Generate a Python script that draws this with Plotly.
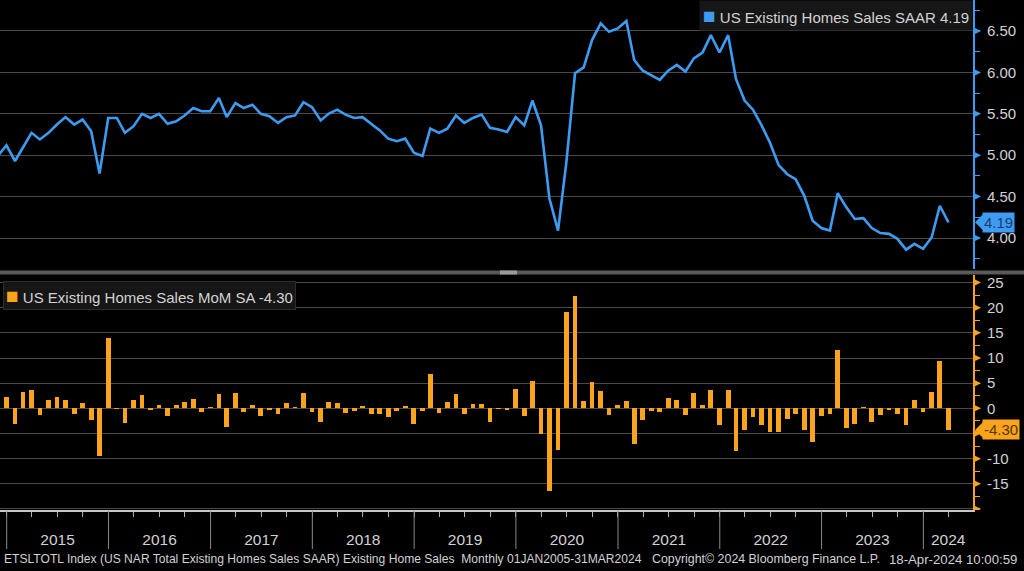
import pandas as pd
import plotly.graph_objects as go

# ---------------- data ----------------
first_month = "2014-11-01"
saar = [
    4.99, 5.12,
    4.93, 5.10, 5.27, 5.19, 5.27, 5.37, 5.46, 5.37, 5.43, 5.29, 4.78, 5.45,
    5.45, 5.27, 5.35, 5.50, 5.45, 5.50, 5.38, 5.41, 5.48, 5.57, 5.53, 5.53,
    5.69, 5.46, 5.63, 5.57, 5.61, 5.50, 5.47, 5.39, 5.46, 5.48, 5.64, 5.58,
    5.42, 5.50, 5.55, 5.49, 5.45, 5.46, 5.38, 5.30, 5.20, 5.17, 5.20, 5.03,
    4.99, 5.32, 5.27, 5.32, 5.48, 5.39, 5.45, 5.49, 5.33, 5.31, 5.28, 5.46,
    5.36, 5.66, 5.36, 4.48, 4.09, 4.92, 5.99, 6.06, 6.39, 6.59, 6.49, 6.53,
    6.62, 6.15, 6.02, 5.97, 5.91, 6.02, 6.09, 6.01, 6.17, 6.24, 6.45, 6.24,
    6.45, 5.92, 5.66, 5.55, 5.36, 5.15, 4.88, 4.77, 4.71, 4.51, 4.21, 4.12,
    4.09, 4.54, 4.37, 4.23, 4.24, 4.12, 4.06, 4.05, 3.99, 3.86, 3.93, 3.87,
    4.01, 4.39, 4.19,
]
mom = [
    -2.1, 2.3,
    -3.2, 3.3, 3.6, -1.4, 1.6, 2.3, 1.6, -1.2, 1.1, -2.3, -9.5, 13.9,
    -0.1, -2.9, 1.6, 2.7, -0.4, 0.7, -1.5, 0.7, 1.3, 1.8, -0.7, 0.3,
    2.8, -3.7, 3.1, -0.7, 0.7, -1.5, -0.4, -1.1, 1.1, 0.3, 3.1, -0.7,
    -2.7, 1.3, 1.1, -0.9, -0.5, 0.5, -1.1, -1.1, -1.7, -0.5, 0.5, -3.1,
    -0.5, 6.9, -1.0, 1.3, 2.8, -1.2, 0.9, 0.9, -2.7, -0.1, -0.3, 3.8,
    -1.6, 5.4, -5.1, -16.4, -8.3, 19.2, 22.4, 1.5, 5.2, 3.5, -1.3, 0.7,
    1.5, -7.1, -2.4, -0.6, -0.8, 2.0, 1.6, -1.3, 3.0, 0.7, 3.6, -3.4,
    3.6, -8.5, -4.3, -1.7, -3.3, -4.6, -4.6, -2.2, -1.1, -4.3, -6.6, -1.5,
    -1.1, 11.5, -4.0, -3.1, 0.3, -2.8, -1.3, -0.3, -1.1, -3.3, 1.7, -0.7,
    3.2, 9.5, -4.30,
]
saar_name = "US Existing Homes Sales SAAR"
mom_name = "US Existing Homes Sales MoM SA"
saar_ticks = [4.0, 4.5, 5.0, 5.5, 6.0, 6.5]
mom_ticks = [25, 20, 15, 10, 5, 0, -5, -10, -15, -20]
mom_hidden_labels = [-5, -20]
years = list(range(2015, 2025))
x_range = ["2014-12-08", "2024-06-27"]
saar_range = [3.626, 6.874]
mom_range = [-20.2, 26.5]
footer_left = ("ETSLTOTL Index (US NAR Total Existing Homes Sales SAAR) Existing Home Sales"
               "\u00a0\u00a0Monthly 01JAN2005-31MAR2024")
footer_mid = "Copyright\u00a9 2024 Bloomberg Finance L.P."
footer_right = "18-Apr-2024 10:00:59"

# ---------------- style ----------------
W, H = 1024, 571
ML, MR, MT, MB = 0, 51, 0, 61
PH = H - MT - MB          # plot-area height in px
PW = W - ML - MR
BLUE = "#3d9cf2"
ORANGE = "#f9a41c"
GRID = "#4a4a4a"
TXT = "#d2d2d2"
FONT = "Liberation Sans, Arial, sans-serif"


def py(pixel_y):
    """pixel row (from top of page) -> paper y"""
    return (PH + MT - pixel_y) / PH


def px(pixel_x):
    return (pixel_x - ML) / PW


top_domain = [py(269), 1.0]
bot_domain = [0.0, py(275)]

dates = pd.date_range(first_month, periods=len(saar), freq="MS") + pd.offsets.MonthEnd(0)

fig = go.Figure()
fig.add_trace(go.Scatter(x=dates, y=saar, mode="lines", line=dict(color=BLUE, width=2.6),
                         xaxis="x", yaxis="y", hoverinfo="skip"))
fig.add_trace(go.Bar(x=dates, y=mom, marker=dict(color=ORANGE, line=dict(width=0)),
                     width=17 * 86400000, xaxis="x2", yaxis="y2", hoverinfo="skip"))

# year label positions: centre of the visible part of each year
rs, re_ = pd.Timestamp(x_range[0]), pd.Timestamp(x_range[1])
year_mid = []
for yr in years:
    a = max(pd.Timestamp(f"{yr}-01-01"), rs)
    b = min(pd.Timestamp(f"{yr + 1}-01-01"), re_)
    year_mid.append(a + (b - a) / 2)

fig.update_layout(
    width=W, height=H, margin=dict(l=ML, r=MR, t=MT, b=MB, autoexpand=False),
    paper_bgcolor="black", plot_bgcolor="black", showlegend=False,
    hovermode=False, bargap=0,
    xaxis=dict(domain=[0, 1], anchor="y", matches="x2", range=x_range, showticklabels=False,
               showgrid=False, zeroline=False, showline=False, ticks=""),
    xaxis2=dict(domain=[0, 1], anchor="y2", range=x_range, type="date",
                showgrid=False, zeroline=False, showline=True, linecolor="#c8c8c8", linewidth=2,
                tickvals=year_mid, ticktext=[str(y) for y in years], ticks="",
                ticklabelstandoff=14, tickfont=dict(family=FONT, size=15.5, color=TXT),
                minor=dict(ticks="outside", ticklen=5, tickwidth=1, tickcolor="#b0b0b0",
                           dtick="M3", tick0="2015-01-01", showgrid=False)),
    yaxis=dict(domain=top_domain, anchor="x", side="right", range=saar_range,
               tickvals=saar_ticks, tickformat=".2f", ticks="", ticklabelstandoff=9,
               tickfont=dict(family=FONT, size=15, color=TXT),
               showgrid=True, gridcolor=GRID, gridwidth=1, zeroline=False,
               showline=True, linecolor=BLUE, linewidth=2,
               minor=dict(ticks="outside", ticklen=5, tickwidth=1, tickcolor=BLUE,
                          dtick=0.25, tick0=0, showgrid=False)),
    yaxis2=dict(domain=bot_domain, anchor="x2", side="right", range=mom_range,
                tickvals=mom_ticks,
                ticktext=["" if t in mom_hidden_labels else str(t) for t in mom_ticks],
                ticks="", ticklabelstandoff=9,
                tickfont=dict(family=FONT, size=15, color=TXT),
                showgrid=True, gridcolor=GRID, gridwidth=1, zeroline=False,
                showline=True, linecolor=ORANGE, linewidth=2,
                minor=dict(ticks="outside", ticklen=5, tickwidth=1, tickcolor=ORANGE,
                           dtick=2.5, tick0=0, showgrid=False)),
)

shapes = []
# triangle markers at major ticks
for axis, ticks, col in (("y", saar_ticks, BLUE), ("y2", mom_ticks, ORANGE)):
    for t in ticks:
        shapes.append(dict(type="path", xref="paper", yref=axis, xsizemode="pixel",
                           ysizemode="pixel", xanchor=1, yanchor=t,
                           path="M 0,-4 L 8,0 L 0,4 Z", fillcolor=col, line=dict(width=0)))
# year separators below the time axis
for yr in years:
    shapes.append(dict(type="line", xref="x2", yref="paper", x0=f"{yr}-01-01", x1=f"{yr}-01-01",
                       y0=py(511), y1=py(549), line=dict(color="#8a8a8a", width=1)))
# panel separator band and handle
shapes.append(dict(type="rect", xref="paper", yref="paper", x0=0, x1=px(W), y0=py(274.5),
                   y1=py(270.5), fillcolor="#5a5a5a", line=dict(width=0), layer="above"))
shapes.append(dict(type="rect", xref="paper", yref="paper", x0=px(500), x1=px(517), y0=py(274.5),
                   y1=py(270.5), fillcolor="#9a9a9a", line=dict(width=0), layer="above"))
# last-value tags (arrow part)
for axis, val, col in (("y", saar[-1], BLUE), ("y2", mom[-1], ORANGE)):
    shapes.append(dict(type="path", xref="paper", yref=axis, xsizemode="pixel",
                       ysizemode="pixel", xanchor=1, yanchor=val,
                       path="M 2,0 L 10,-8 L 10,8 Z", fillcolor=col, line=dict(width=0)))
fig.update_layout(shapes=shapes)

SQ = '<span style="color:{c};font-size:21px">\u25a0</span> '
ann = []
# last-value tags (body)
ann.append(dict(xref="paper", yref="y", x=1, y=saar[-1], xanchor="left", yanchor="middle",
                xshift=9, text=f"{saar[-1]:.2f}", showarrow=False, bgcolor=BLUE, borderpad=1,
                font=dict(family=FONT, size=15, color="#1c3d6b")))
ann.append(dict(xref="paper", yref="y2", x=1, y=mom[-1], xanchor="left", yanchor="middle",
                xshift=9, text=f"{mom[-1]:.2f}", showarrow=False, bgcolor=ORANGE, borderpad=1,
                font=dict(family=FONT, size=15, color="#5a3300")))
# legend boxes
ann.append(dict(xref="paper", yref="paper", x=1, y=1, xanchor="right", yanchor="top",
                text=SQ.format(c=BLUE) + f"{saar_name} {saar[-1]:.2f}",
                showarrow=False, bgcolor="#161616", borderpad=3, align="left",
                font=dict(family=FONT, size=15, color=TXT)))
ann.append(dict(xref="paper", yref="paper", x=px(3), y=py(281), xanchor="left", yanchor="top",
                text=SQ.format(c=ORANGE) + f"{mom_name} {mom[-1]:.2f}",
                showarrow=False, bgcolor="#161616", bordercolor="#2c2c2c", borderwidth=1,
                borderpad=2, align="left", font=dict(family=FONT, size=15, color=TXT)))
# footer
for txt, xp, anchor, fs in ((footer_left, px(2), "left", 12.1),
                            (footer_mid, px(650), "left", 12.4),
                            (footer_right, px(1019), "right", 13.2)):
    ann.append(dict(xref="paper", yref="paper", x=xp, y=py(559), xanchor=anchor,
                    yanchor="middle", text=txt, showarrow=False,
                    font=dict(family=FONT, size=fs, color=TXT)))
fig.update_layout(annotations=ann)

fig.write_html("out.html", config={"displayModeBar": False, "staticPlot": True},
               post_script="document.body.style.margin='0';document.body.style.overflow='hidden';")
